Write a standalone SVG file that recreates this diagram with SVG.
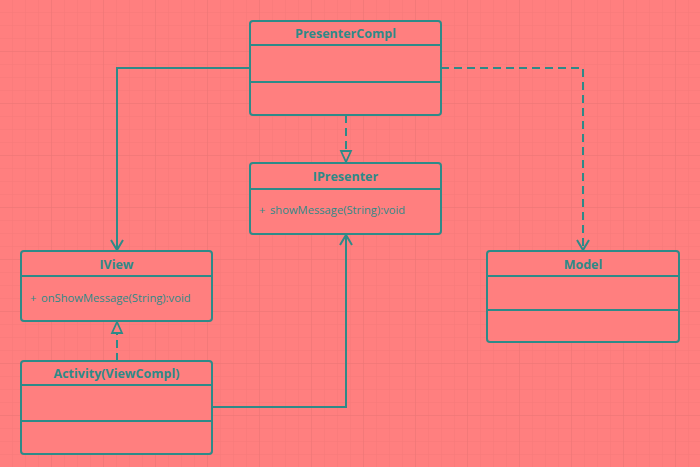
<svg xmlns="http://www.w3.org/2000/svg" width="700" height="467" viewBox="0 0 700 467">
<defs>
<pattern id="minor" width="13" height="13" patternUnits="userSpaceOnUse">
<path d="M13 0V13M0 13H13" fill="none" stroke="#EE7676" stroke-width="0.6"/>
</pattern>
<pattern id="major" width="52" height="52" patternUnits="userSpaceOnUse">
<path d="M52 0V52M0 52H52" fill="none" stroke="#E87272" stroke-width="0.8"/>
</pattern>
<marker id="open" markerWidth="14" markerHeight="14" refX="12" refY="7" orient="auto" markerUnits="userSpaceOnUse" viewBox="0 0 14 14">
<path d="M2 1L12 7L2 13" fill="none" stroke="#2E8A88" stroke-width="2"/>
</marker>
<marker id="tri" markerWidth="14" markerHeight="14" refX="12" refY="7" orient="auto" markerUnits="userSpaceOnUse" viewBox="0 0 14 14">
<path d="M1 2L12 7L1 12Z" fill="#FF7F7F" stroke="#2E8A88" stroke-width="1.8"/>
</marker>
</defs>
<style>
.box{fill:#FF7F7F;stroke:#2E8A88;stroke-width:2}
.div{stroke:#2E8A88;stroke-width:2}
.t{font-family:"Open Sans","Liberation Sans",sans-serif;font-size:12.5px;font-weight:bold;fill:#2E8A88;text-anchor:middle}
.m{font-family:"Open Sans","Liberation Sans",sans-serif;font-size:11.2px;fill:#2E8A88}
.c{fill:none;stroke:#2E8A88;stroke-width:2}
.d{stroke-dasharray:8 5}
</style>
<rect width="700" height="467" fill="#FF7F7F"/>
<rect width="700" height="467" fill="url(#minor)"/>
<rect width="700" height="467" fill="url(#major)"/>
<g id="connectors">
<path class="c" d="M250 68H117V250" marker-end="url(#open)"/>
<path class="c d" d="M346 115V162" marker-end="url(#tri)"/>
<path class="c d" d="M441 68H583V250" marker-end="url(#open)"/>
<path class="c" d="M212 407H346V235" marker-end="url(#open)"/>
<path class="c d" d="M117 361V322" marker-end="url(#tri)"/>
</g>
<g id="PresenterCompl">
<rect class="box" x="250" y="21" width="191" height="94" rx="3"/>
<line class="div" x1="250" y1="45" x2="441" y2="45"/>
<line class="div" x1="250" y1="82" x2="441" y2="82"/>
<text class="t" x="345.5" y="38">PresenterCompl</text>
</g>
<g id="IPresenter">
<rect class="box" x="250" y="163" width="191" height="71" rx="3"/>
<line class="div" x1="250" y1="189" x2="441" y2="189"/>
<text class="t" x="345.5" y="181">IPresenter</text>
<text class="m" y="214"><tspan x="259">+</tspan><tspan x="270">showMessage(String):void</tspan></text>
</g>
<g id="IView">
<rect class="box" x="21" y="251" width="191" height="70" rx="3"/>
<line class="div" x1="21" y1="276" x2="212" y2="276"/>
<text class="t" x="116.5" y="269">IView</text>
<text class="m" y="302"><tspan x="30">+</tspan><tspan x="41">onShowMessage(String):void</tspan></text>
</g>
<g id="Activity">
<rect class="box" x="21" y="361" width="191" height="93" rx="3"/>
<line class="div" x1="21" y1="385" x2="212" y2="385"/>
<line class="div" x1="21" y1="421" x2="212" y2="421"/>
<text class="t" x="116.5" y="378">Activity(ViewCompl)</text>
</g>
<g id="Model">
<rect class="box" x="487" y="251" width="192" height="91" rx="3"/>
<line class="div" x1="487" y1="276" x2="679" y2="276"/>
<line class="div" x1="487" y1="310" x2="679" y2="310"/>
<text class="t" x="583" y="269">Model</text>
</g>
</svg>
